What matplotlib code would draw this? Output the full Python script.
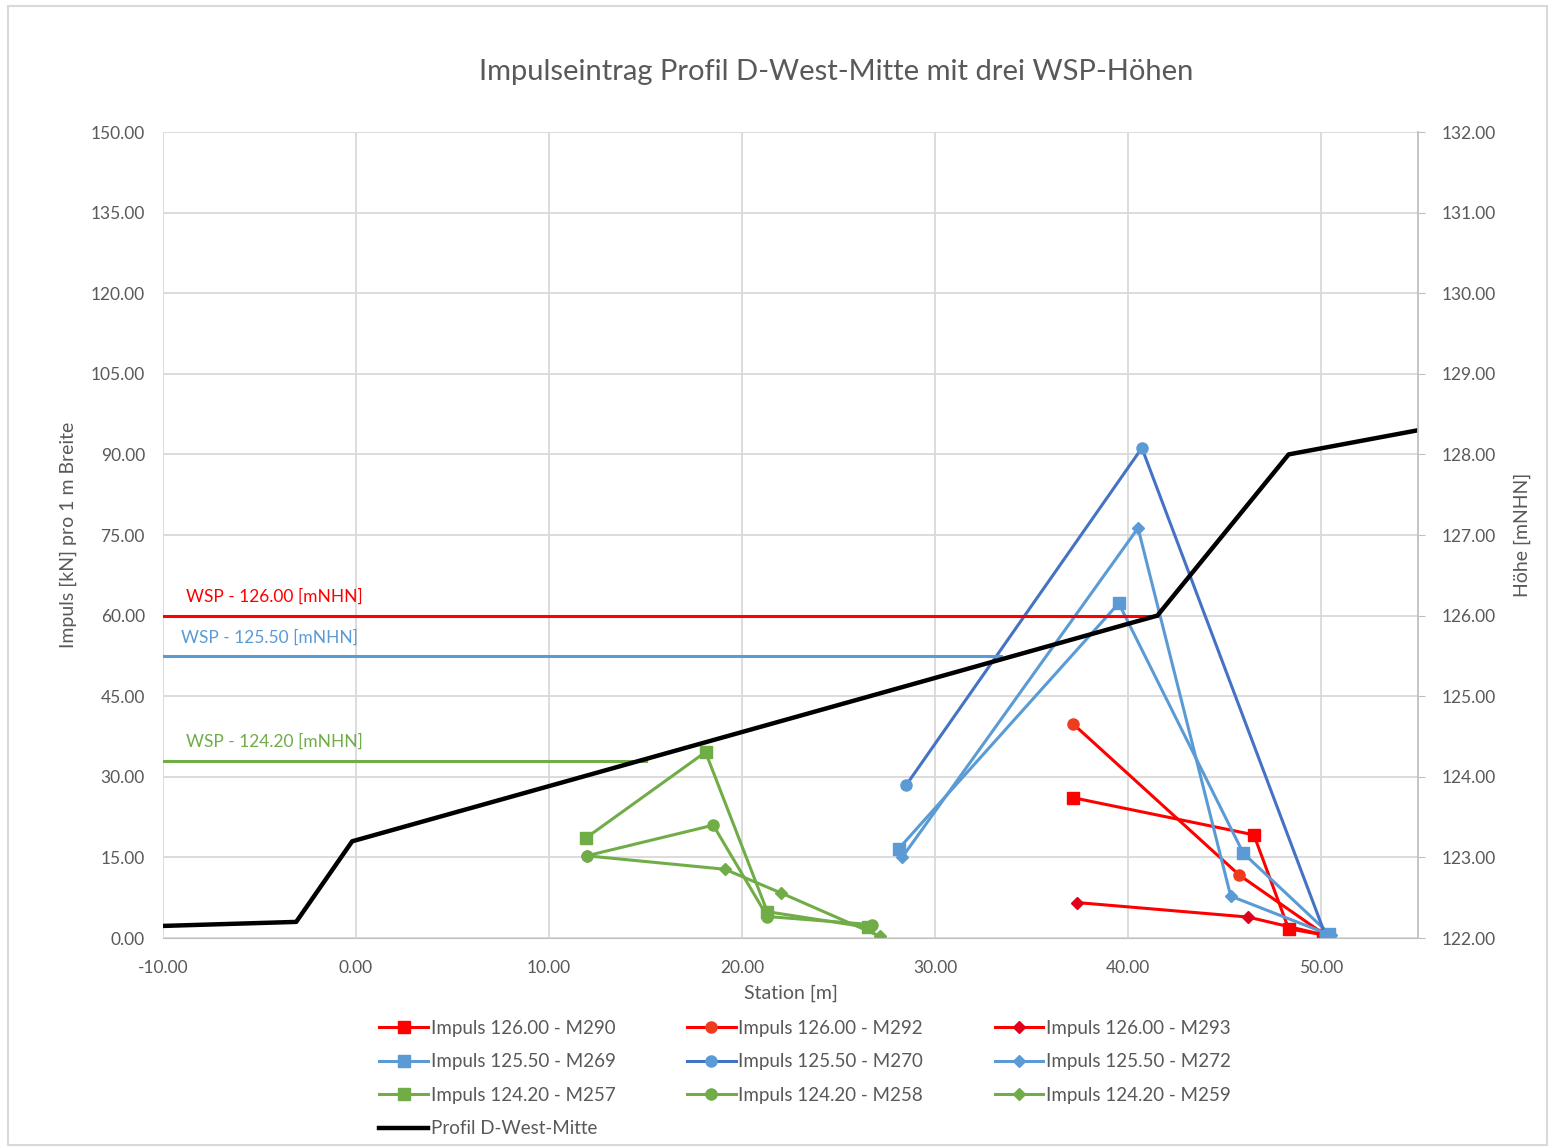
import numpy as np
import matplotlib.pyplot as plt
import matplotlib.patches as mpatches

plt.rcParams['font.family'] = ['Lato', 'DejaVu Sans']

# Daten: Impulse (Station [m], Impuls [kN])
m290_x = [37.15, 46.5, 48.3, 50.1]
m290_y = [26.1, 19.2, 1.7, 0.6]
m292_x = [37.15, 45.75, 50.1]
m292_y = [39.8, 11.7, 0.8]
m293_x = [37.35, 46.2, 50.1]
m293_y = [6.6, 3.9, 0.6]

m269_x = [28.1, 39.5, 45.95, 50.4]
m269_y = [16.6, 62.3, 15.8, 0.8]
m270_x = [28.5, 40.7, 50.2]
m270_y = [28.5, 91.2, 0.6]
m272_x = [28.3, 40.5, 45.3, 50.5]
m272_y = [15.1, 76.3, 7.8, 0.5]

m257_x = [11.9, 18.1, 21.3, 26.5]
m257_y = [18.6, 34.6, 4.9, 2.0]
m258_x = [11.95, 18.5, 21.3, 26.7]
m258_y = [15.3, 21.0, 4.0, 2.5]
m259_x = [11.95, 19.1, 22.0, 27.15]
m259_y = [15.3, 12.8, 8.4, 0.3]

# Profil (Station [m], Höhe [mNHN])
profil_x = [-10.0, -3.1, -0.2, 41.5, 48.3, 55.0]
profil_h = [122.15, 122.2, 123.2, 126.0, 128.0, 128.3]

# Wasserspiegel
wsp_werte = [126.0, 125.5, 124.2]
wsp_ende = [41.5, 33.4, 15.0]
wsp_labels = ['WSP - 126.00 [mNHN]', 'WSP - 125.50 [mNHN]', 'WSP - 124.20 [mNHN]']

rot = '#FF0000'
blau = '#5B9BD5'
blau_dunkel = '#4472C4'
gruen = '#70AD47'
grau = '#595959'

fig = plt.figure(figsize=(15.55, 11.47), dpi=100)
ax = fig.add_axes([0.1048, 0.1822, 0.8071, 0.7027])
ax2 = ax.twinx()

# Rahmen
fig.patches.append(mpatches.Rectangle((0.005, 0.002), 0.99, 0.993, transform=fig.transFigure,
                                      fill=False, edgecolor='#D9D9D9', linewidth=1.5))

lw = 2.2
ms = 8
l290, = ax.plot(m290_x, m290_y, color=rot, marker='s', ms=ms, lw=lw, label='Impuls 126.00 - M290')
l292, = ax.plot(m292_x, m292_y, color=rot, marker='o', ms=ms, lw=lw, mfc='#F03C1E', mec='#F03C1E', label='Impuls 126.00 - M292')
l293, = ax.plot(m293_x, m293_y, color=rot, marker='D', ms=6, lw=lw, mfc='#E0001C', mec='#E0001C', label='Impuls 126.00 - M293')
l269, = ax.plot(m269_x, m269_y, color=blau, marker='s', ms=ms, lw=lw, label='Impuls 125.50 - M269')
l270, = ax.plot(m270_x, m270_y, color=blau_dunkel, marker='o', ms=ms, lw=lw, mfc=blau, mec=blau, label='Impuls 125.50 - M270')
l272, = ax.plot(m272_x, m272_y, color=blau, marker='D', ms=6, lw=lw, label='Impuls 125.50 - M272')
l257, = ax.plot(m257_x, m257_y, color=gruen, marker='s', ms=ms, lw=lw, label='Impuls 124.20 - M257')
l258, = ax.plot(m258_x, m258_y, color=gruen, marker='o', ms=ms, lw=lw, label='Impuls 124.20 - M258')
l259, = ax.plot(m259_x, m259_y, color=gruen, marker='D', ms=6, lw=lw, label='Impuls 124.20 - M259')

# WSP-Linien und Profil auf der rechten Achse
wsp_farben = [rot, blau, gruen]
for wert, ende, farbe in zip(wsp_werte, wsp_ende, wsp_farben):
    ax2.plot([-10, ende], [wert, wert], color=farbe, lw=2.2)
lprofil, = ax2.plot(profil_x, profil_h, color='black', lw=3.2, label='Profil D-West-Mitte')

for wert, text, farbe, dx in zip(wsp_werte, wsp_labels, wsp_farben, [-8.8, -9.05, -8.8]):
    ax2.text(dx, wert + 0.13, text, color=farbe, fontsize=12.5, va='bottom', ha='left')

ax.set_xlim(-10, 55)
ax.set_ylim(0, 150)
ax2.set_ylim(122, 132)
ax.set_xticks(np.arange(-10, 51, 10))
ax.set_yticks(np.arange(0, 151, 15))
ax2.set_yticks(np.arange(122, 133, 1))
ax.xaxis.set_major_formatter(lambda v, p: f'{v:.2f}')
ax.yaxis.set_major_formatter(lambda v, p: f'{v:.2f}')
ax2.yaxis.set_major_formatter(lambda v, p: f'{v:.2f}')

ax.grid(True, color='#D9D9D9', lw=1.3)
ax.set_axisbelow(True)
for a in (ax, ax2):
    for s in ('top', 'left'):
        a.spines[s].set_visible(False)
ax.spines['right'].set_visible(False)
ax.spines['bottom'].set_color('#BFBFBF')
ax2.spines['bottom'].set_visible(False)
ax2.spines['right'].set_color('#BFBFBF')
ax2.spines['right'].set_linewidth(1.3)
ax.tick_params(axis='x', length=0, labelsize=12.5, labelcolor=grau, pad=16)
ax.tick_params(axis='y', length=0, labelsize=12.5, labelcolor=grau, pad=13)
ax2.tick_params(axis='y', length=5, color='#BFBFBF', labelsize=12.5, labelcolor=grau, pad=12)

ax.set_xlabel('Station [m]', fontsize=14, color=grau, labelpad=6)
ax.set_ylabel('Impuls [kN] pro 1 m Breite', fontsize=14, color=grau, labelpad=10)
ax2.set_ylabel('Höhe [mNHN]', fontsize=14, color=grau, rotation=90, labelpad=13)

fig.text(0.538, 0.937, 'Impulseintrag Profil D-West-Mitte mit drei WSP-Höhen',
         ha='center', va='center', fontsize=21, color=grau)

# Reihenfolge so, dass die Legende zeilenweise gelesen wird
handles = [l290, l269, l257, lprofil, l292, l270, l258, l293, l272, l259]
fig.legend(handles=handles, loc='upper left', bbox_to_anchor=(0.233, 0.1255), ncol=3,
           frameon=False, fontsize=13.5, labelcolor=grau, handlelength=2.6,
           handletextpad=0.15, columnspacing=3.8, labelspacing=0.88)

plt.savefig('out.png', dpi=100)
